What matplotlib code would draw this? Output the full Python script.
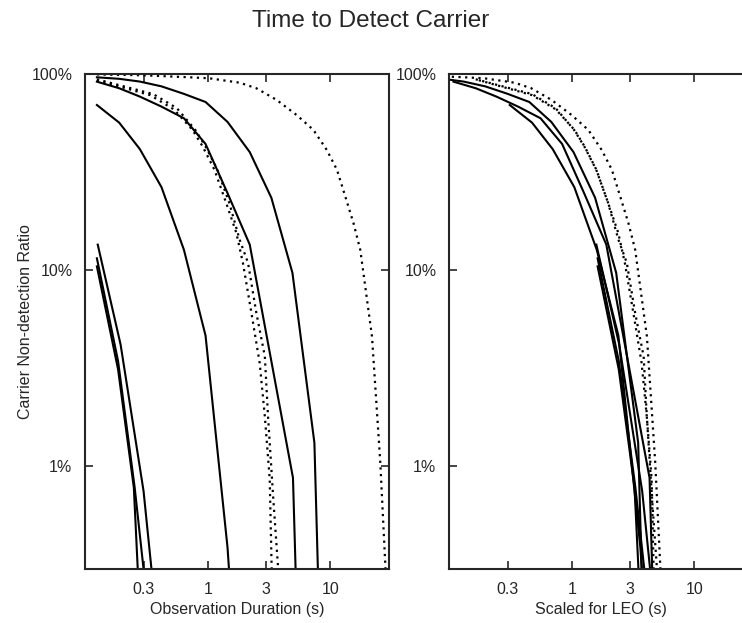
import numpy as np
import matplotlib
matplotlib.use('Agg')
from matplotlib import pyplot as plt

plt.rcParams['font.family'] = ['Liberation Sans', 'DejaVu Sans']

# left panel curves (x in s, y as fraction)
solid_x = [
    [0.125, 0.19, 0.28, 0.42, 0.64, 0.96, 1.45, 2.2, 3.3, 4.9, 7.4, 7.9],
    [0.125, 0.19, 0.28, 0.42, 0.64, 0.96, 1.45, 2.2, 4.95, 5.2],
    [0.125, 0.19, 0.28, 0.42, 0.64, 0.96, 1.45, 1.49],
    [0.127, 0.195, 0.30, 0.348],
    [0.125, 0.186, 0.254, 0.30],
    [0.125, 0.186, 0.25, 0.269],
]
solid_y = [
    [0.962, 0.945, 0.915, 0.865, 0.792, 0.72, 0.57, 0.40, 0.234, 0.097, 0.0132, 0.003],
    [0.914, 0.846, 0.767, 0.682, 0.595, 0.44, 0.247, 0.135, 0.00875, 0.003],
    [0.695, 0.565, 0.414, 0.265, 0.127, 0.0464, 0.00386, 0.003],
    [0.135, 0.0418, 0.00749, 0.003],
    [0.115, 0.0344, 0.0078, 0.003],
    [0.1046, 0.0312, 0.0078, 0.003],
]
dotted_x = [
    [0.125, 0.3, 0.71, 1.03, 1.82, 2.49, 3.64, 5.3, 7.26, 9.34, 11.3, 13.2, 15.4, 17.5, 21.8, 25.5, 28.1],
    [0.125, 0.34, 0.53, 0.75, 0.91, 1.135, 1.415, 1.71, 1.935, 2.27, 2.65, 2.92, 3.2, 3.32],
    [0.125, 0.36, 0.56, 0.79, 0.96, 1.2, 1.5, 1.82, 2.13, 2.49, 2.92, 3.1, 3.41, 3.75],
]
dotted_y = [
    [0.995, 0.985, 0.962, 0.951, 0.903, 0.846, 0.738, 0.618, 0.519, 0.41, 0.325, 0.238, 0.174, 0.127, 0.046, 0.0104, 0.003],
    [0.93, 0.78, 0.66, 0.52, 0.427, 0.325, 0.22, 0.155, 0.109, 0.0606, 0.0337, 0.018, 0.0086, 0.003],
    [0.94, 0.79, 0.67, 0.52, 0.427, 0.325, 0.22, 0.143, 0.109, 0.0606, 0.0364, 0.018, 0.00706, 0.003],
]
# time scale factor of each curve for the LEO panel
solid_scale = [0.47, 0.87, 2.5, 12.5, 13.0, 13.0]
dotted_scale = [0.188, 1.40, 1.32]

x_ticks = [0.3, 1, 3, 10]
x_ticklabels = ['0.3', '1', '3', '10']
y_ticks = [0.01, 0.1, 1]
y_ticklabels = ['1%', '10%', '100%']

txt = '#262626'
W, H = 742, 623

fig = plt.figure(figsize=(W / 100, H / 100), dpi=100)
ax1 = fig.add_axes([85 / W, 54 / H, 304 / W, 495 / H])
ax2 = fig.add_axes([449 / W, 54 / H, 304 / W, 495 / H])

for ax, leo in [(ax1, False), (ax2, True)]:
    for i in range(len(solid_x)):
        xs = np.array(solid_x[i])
        if leo:
            xs = xs * solid_scale[i]
        ax.plot(xs, solid_y[i], color='black', lw=1.5)
    for i in range(len(dotted_x)):
        xs = np.array(dotted_x[i])
        if leo:
            xs = xs * dotted_scale[i]
        ax.plot(xs, dotted_y[i], color='black', lw=1.6, linestyle=(0, (1, 2)),
                dash_capstyle='butt')
    ax.set_xscale('log')
    ax.set_yscale('log')
    ax.set_xlim(0.1, 30)
    ax.set_ylim(0.003, 1)
    ax.set_xticks(x_ticks)
    ax.set_xticklabels(x_ticklabels)
    ax.set_yticks(y_ticks)
    ax.set_yticklabels(y_ticklabels)
    ax.minorticks_off()
    ax.tick_params(direction='in', length=6, width=1.2, top=True, right=True,
                   colors=txt, labelsize=11.5, pad=9)
    for s in ax.spines.values():
        s.set_linewidth(1.5)
        s.set_color(txt)

ax1.set_xlabel('Observation Duration (s)', fontsize=11.5, color=txt, labelpad=4)
ax2.set_xlabel('Scaled for LEO (s)', fontsize=11.5, color=txt, labelpad=4)
ax1.set_ylabel('Carrier Non-detection Ratio', fontsize=11.5, color=txt, labelpad=-1)
fig.text(0.5, 1 - 21 / H, 'Time to Detect Carrier', ha='center', va='center',
         fontsize=17.5, color=txt)

plt.savefig('out.png', dpi=100)
